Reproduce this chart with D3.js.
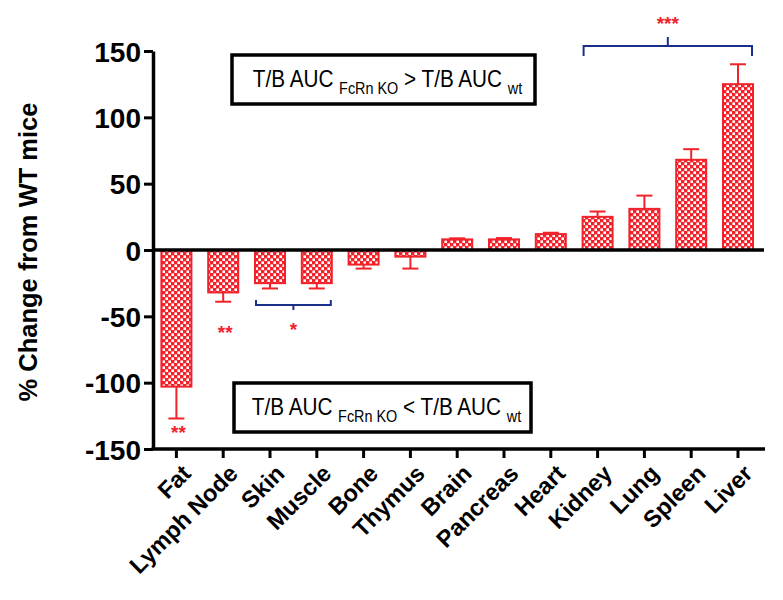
<!DOCTYPE html>
<html><head><meta charset="utf-8">
<script src="https://cdn.jsdelivr.net/npm/d3@7"></script>
<style>body{margin:0;background:#fff}svg{display:block}</style>
</head><body>
<svg id="c" width="783" height="600"></svg>
<script>
const categories = ["Fat","Lymph Node","Skin","Muscle","Bone","Thymus","Brain","Pancreas","Heart","Kidney","Lung","Spleen","Liver"];
const values = [-103,-32,-25,-25,-11,-5,8,8,12,25,31,68,125];
const errors = [24,7,4,4,3,9,0.8,1,1,4,10,8,15];
const yTicks = [-150,-100,-50,0,50,100,150];
const sigGroups = [
  {from:"Skin", to:"Muscle", label:"*", side:"below"},
  {from:"Kidney", to:"Liver", label:"***", side:"above"}
];
const sigSingles = [
  {cat:"Fat", label:"**"},
  {cat:"Lymph Node", label:"**"}
];
const RED = "#f2222a", BLUE = "#1b2f8a";
const FONT = "Liberation Sans, Arial, sans-serif";

const svg = d3.select("#c");
const defs = svg.append("defs");
const pat = defs.append("pattern").attr("id","chk").attr("patternUnits","userSpaceOnUse")
  .attr("width",6).attr("height",6);
pat.append("rect").attr("width",6).attr("height",6).attr("fill",RED);
pat.append("rect").attr("x",0.4).attr("y",0.4).attr("width",2.6).attr("height",2.6).attr("fill","#fff");
pat.append("rect").attr("x",3.4).attr("y",3.4).attr("width",2.6).attr("height",2.6).attr("fill","#fff");

const x = d3.scaleBand().domain(categories).range([153,761.4]).paddingInner(0.316).paddingOuter(0.158);
const y = d3.scaleLinear().domain([-150,150]).range([449,51]);

// bars
const g = svg.append("g");
categories.forEach((c,i)=>{
  const v = values[i];
  const x0 = x(c), w = x.bandwidth();
  g.append("rect").attr("x",x0+1).attr("width",w-2)
    .attr("y",y(Math.max(0,v))).attr("height",Math.abs(y(v)-y(0)))
    .attr("fill","url(#chk)").attr("stroke",RED).attr("stroke-width",2);
  const e = v>=0 ? v+errors[i] : v-errors[i];
  const cx = x0 + w/2;
  g.append("line").attr("x1",cx).attr("x2",cx).attr("y1",y(v)).attr("y2",y(e))
    .attr("stroke",RED).attr("stroke-width",2);
  g.append("line").attr("x1",cx-8).attr("x2",cx+8).attr("y1",y(e)).attr("y2",y(e))
    .attr("stroke",RED).attr("stroke-width",2);
});

// zero line
svg.append("line").attr("x1",153).attr("x2",764).attr("y1",y(0)).attr("y2",y(0))
  .attr("stroke","#000").attr("stroke-width",3.5);

// y axis
const ya = svg.append("g").attr("transform","translate(153,0)")
  .call(d3.axisLeft(y).tickValues(yTicks).tickSize(9).tickSizeOuter(0).tickPadding(3).tickFormat(d=>String(d)));
ya.select(".domain").attr("stroke-width",3.5);
ya.selectAll(".tick line").attr("stroke-width",3);
ya.selectAll(".tick text").attr("font-family",FONT)
  .attr("font-weight","bold").attr("font-size",28).attr("fill","#000").attr("dy","0.36em");

// x axis
const xa = svg.append("g").attr("transform","translate(0,449)")
  .call(d3.axisBottom(x).tickSize(9).tickSizeOuter(0).tickFormat(""));
xa.select(".domain").attr("stroke-width",3.5).attr("d","M151.5,0H765");
xa.selectAll(".tick line").attr("stroke-width",3);
categories.forEach(c=>{
  const cx = x(c)+x.bandwidth()/2;
  svg.append("text").attr("transform",`translate(${cx+4},${463}) rotate(-45)`)
    .attr("text-anchor","end").attr("dy","0.72em")
    .attr("font-family",FONT).attr("font-weight","bold")
    .attr("font-size",23.5).attr("fill","#000").text(c);
});

// y title
svg.append("text").attr("transform","translate(37,252) rotate(-90)")
  .attr("text-anchor","middle").attr("font-family",FONT)
  .attr("font-weight","bold").attr("font-size",25.5).attr("fill","#000").text("% Change from WT mice");

// boxes
function box(x0,y0,w,h,sym){
  svg.append("rect").attr("x",x0).attr("y",y0).attr("width",w).attr("height",h)
    .attr("fill","#fff").attr("stroke","#000").attr("stroke-width",3.5);
  const t = svg.append("g").attr("transform",`translate(${x0+w/2+4},${y0+h/2+7}) scale(0.9,1)`)
    .append("text").attr("text-anchor","middle")
    .attr("font-family",FONT).attr("font-size",23).attr("fill","#000");
  t.append("tspan").text("T/B AUC ");
  t.append("tspan").attr("font-size",16).attr("dy",7).text("FcRn KO");
  t.append("tspan").attr("dy",-7).text(" "+sym+" T/B AUC ");
  t.append("tspan").attr("font-size",16).attr("dy",7).text("wt");
}
box(232,55,303,49,">");
box(234,383,297,49,"<");

// significance
sigGroups.forEach(s=>{
  const x1 = x(s.from)+2, x2 = x(s.to)+x.bandwidth()-2, cx=(x1+x2)/2;
  let yb, ye, yt, ys;
  if(s.side==="above"){ yb=46; ye=56; yt=37; ys=30; }
  else { yb=305; ye=300; yt=310; ys=336; }
  svg.append("path").attr("d",`M${x1},${ye}V${yb}H${x2}V${ye}M${cx},${yb}V${yt}`)
    .attr("fill","none").attr("stroke",BLUE).attr("stroke-width",2);
  svg.append("text").attr("x",cx).attr("y",ys).attr("text-anchor","middle")
    .attr("font-family",FONT).attr("font-weight","bold")
    .attr("font-size",19).attr("fill",RED).text(s.label);
});
sigSingles.forEach(s=>{
  const i = categories.indexOf(s.cat);
  const cx = x(s.cat)+x.bandwidth()/2;
  const yy = y(values[i]-errors[i]) + (s.cat==="Fat"?21:37);
  svg.append("text").attr("x",cx+2).attr("y",yy).attr("text-anchor","middle")
    .attr("font-family",FONT).attr("font-weight","bold")
    .attr("font-size",19).attr("fill",RED).text(s.label);
});
</script>
</body></html>
